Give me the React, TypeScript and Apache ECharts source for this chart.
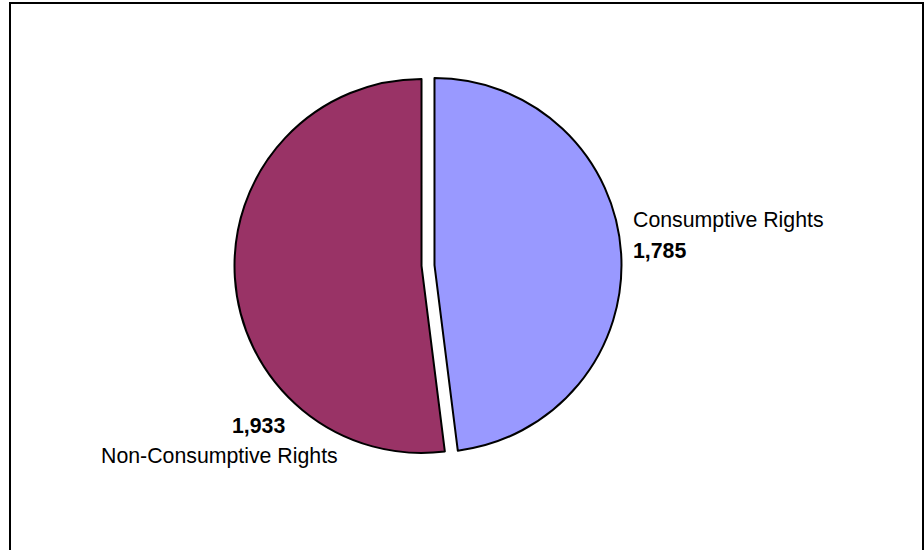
import React, { useEffect, useRef } from "react";
import * as echarts from "echarts";

const categories = ["Consumptive Rights", "Non-Consumptive Rights"];
const values = [1785, 1933];
const colors = ["#9999FF", "#993366"];

const fmt = (v: number) => v.toLocaleString("en-US");

export default function App() {
  const ref = useRef<HTMLDivElement>(null);
  useEffect(() => {
    if (!ref.current) return;
    const chart = echarts.init(ref.current, undefined, { renderer: "svg" });
    const font = "Arial, 'Liberation Sans', sans-serif";
    chart.setOption({
      animation: false,
      backgroundColor: "#ffffff",
      graphic: [
        {
          type: "rect",
          shape: { x: 10, y: 3, width: 913, height: 600 },
          style: { fill: "none", stroke: "#000", lineWidth: 2 },
          silent: true,
        },
        {
          type: "text",
          x: 633,
          y: 220,
          style: { text: categories[0], font: `21.3px ${font}`, fill: "#000", align: "left", verticalAlign: "middle" },
        },
        {
          type: "text",
          x: 633,
          y: 251,
          style: { text: fmt(values[0]), font: `bold 21.3px ${font}`, fill: "#000", align: "left", verticalAlign: "middle" },
        },
        {
          type: "text",
          x: 232,
          y: 426,
          style: { text: fmt(values[1]), font: `bold 21.3px ${font}`, fill: "#000", align: "left", verticalAlign: "middle" },
        },
        {
          type: "text",
          x: 101,
          y: 456,
          style: { text: categories[1], font: `21.3px ${font}`, fill: "#000", align: "left", verticalAlign: "middle" },
        },
      ],
      series: [
        {
          type: "pie",
          center: [428, 265.5],
          radius: 187,
          startAngle: 90,
          clockwise: true,
          selectedMode: "multiple",
          selectedOffset: 6.5,
          label: { show: false },
          labelLine: { show: false },
          emphasis: { disabled: true },
          itemStyle: { borderColor: "#000", borderWidth: 2 },
          data: categories.map((name, i) => ({
            name,
            value: values[i],
            selected: true,
            itemStyle: { color: colors[i], borderColor: "#000", borderWidth: 2 },
            select: { itemStyle: { color: colors[i], borderColor: "#000", borderWidth: 2 } },
          })),
        },
      ],
    });
    return () => chart.dispose();
  }, []);
  return (
    <div
      ref={ref}
      style={{ position: "absolute", left: 0, top: 0, width: 924, height: 550 }}
    />
  );
}
